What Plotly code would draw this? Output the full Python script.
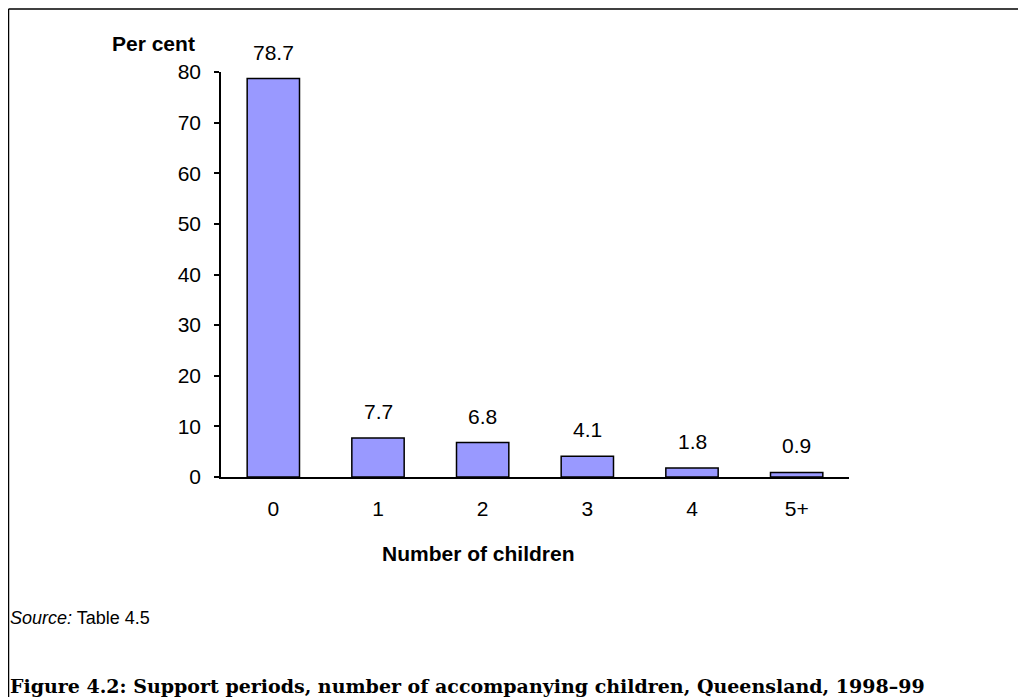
import plotly.graph_objects as go

# data
categories = ["0", "1", "2", "3", "4", "5+"]
per_cent = [78.7, 7.7, 6.8, 4.1, 1.8, 0.9]
y_ticks = [0, 10, 20, 30, 40, 50, 60, 70, 80]

# page is offset by the 8px body margin, so work in page px and convert
OFF = 8
W, H = 1018, 689
L, R, T, B = 221 - OFF, 177, 72 - OFF, 220
pw, ph = W - L - R, H - T - B

def px_x(x):
    return (x - OFF - L) / pw

def px_y(y):
    return (H - B - (y - OFF)) / ph

font = "Arial, Liberation Sans, sans-serif"

bars = go.Bar(
    x=categories, y=per_cent, width=0.5,
    marker=dict(color="#9999ff", line=dict(color="black", width=1.5)),
)

fig = go.Figure(data=[bars])

# value labels above bars
for c, v in zip(categories, per_cent):
    fig.add_annotation(x=c, y=v, text=f"{v:.1f}", showarrow=False,
                       yanchor="bottom", yshift=13,
                       font=dict(family=font, size=21, color="black"))

fig.add_annotation(x=px_x(153), y=px_y(43), xref="paper", yref="paper",
                   xanchor="center", yanchor="middle",
                   text="<b>Per cent</b>", showarrow=False,
                   font=dict(family=font, size=21, color="black"))
fig.add_annotation(x=px_x(478), y=px_y(553), xref="paper", yref="paper",
                   xanchor="center", yanchor="middle",
                   text="<b>Number of children</b>", showarrow=False,
                   font=dict(family=font, size=21, color="black"))
fig.add_annotation(x=px_x(8), y=px_y(618), xref="paper", yref="paper",
                   xanchor="left", yanchor="middle",
                   text="<i>Source:</i> Table 4.5", showarrow=False,
                   font=dict(family=font, size=18, color="black"))
fig.add_annotation(x=px_x(8), y=px_y(686), xref="paper", yref="paper",
                   xanchor="left", yanchor="middle",
                   text="<b>Figure 4.2: Support periods, number of accompanying children, Queensland, 1998\u201399</b>",
                   showarrow=False,
                   font=dict(family="DejaVu Serif, serif", size=19, color="black"))

# frame lines (top and left)
fig.add_shape(type="line", xref="paper", yref="paper",
              x0=px_x(8.5), x1=px_x(1040), y0=px_y(9), y1=px_y(9),
              line=dict(color="black", width=1.5))
fig.add_shape(type="line", xref="paper", yref="paper",
              x0=px_x(8.5), x1=px_x(8.5), y0=px_y(9), y1=px_y(710),
              line=dict(color="black", width=1.5))

fig.update_layout(
    width=W, height=H,
    margin=dict(l=L, r=R, t=T, b=B),
    paper_bgcolor="white", plot_bgcolor="white",
    showlegend=False,
    font=dict(family=font, size=21, color="black"),
)
fig.update_xaxes(
    range=[-0.5, 5.5], showline=True, linecolor="black", linewidth=1.5,
    ticks="", showgrid=False, ticklabelstandoff=12,
    tickfont=dict(family=font, size=21),
)
fig.update_yaxes(
    range=[0, 80], tickvals=y_ticks, showline=True, linecolor="black", linewidth=1.5,
    ticks="outside", ticklen=5, tickcolor="black", tickwidth=1.5,
    showgrid=False, zeroline=False, ticklabelstandoff=9,
    tickfont=dict(family=font, size=21),
)

fig.write_html("out.html")
